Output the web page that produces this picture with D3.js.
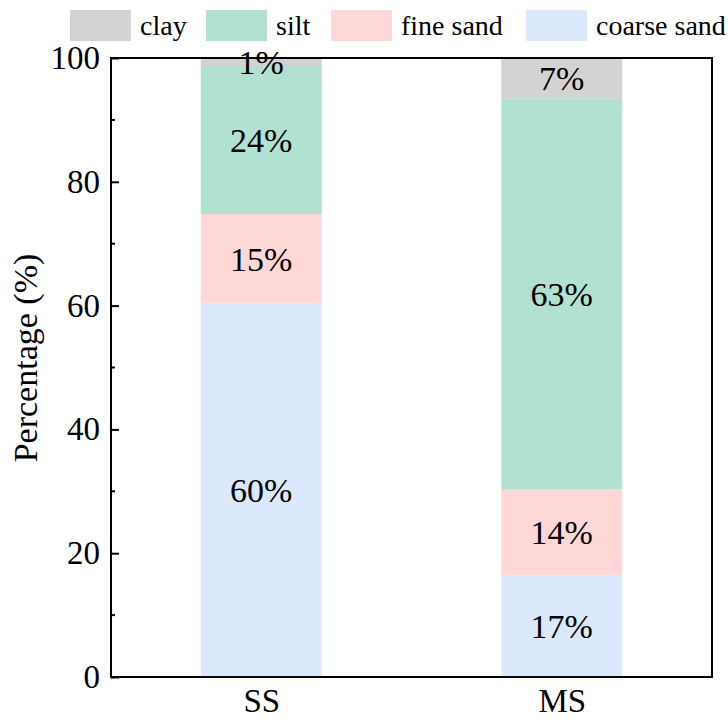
<!DOCTYPE html>
<html><head><meta charset="utf-8">
<script src="https://cdn.jsdelivr.net/npm/d3@7"></script>
<style>body{margin:0;background:#fff}svg{display:block}svg text{font-family:"Times New Roman","Liberation Serif",Tinos,Times,serif !important;fill:#000}</style>
</head><body>
<script>
const categories = ["SS", "MS"];
const seriesNames = ["coarse sand", "fine sand", "silt", "clay"];
const coarseSand = [60.3, 16.5];
const fineSand = [14.5, 13.8];
const silt = [23.9, 63.1];
const clay = [1.3, 6.6];
const labels = {
  "coarse sand": ["60%", "17%"],
  "fine sand": ["15%", "14%"],
  "silt": ["24%", "63%"],
  "clay": ["1%", "7%"]
};
const yTicks = [0, 20, 40, 60, 80, 100];
const yMinorTicks = [10, 30, 50, 70, 90];
const legendOrder = ["clay", "silt", "fine sand", "coarse sand"];
const colors = {"clay":"#d3d3d3","silt":"#b2e0d1","fine sand":"#ffd7d7","coarse sand":"#dce9fc"};

const W = 728, H = 722;
const m = {left:111, right:16, top:58, bottom:45};
const svg = d3.select("body").append("svg").attr("width", W).attr("height", H);

const x = d3.scalePoint().domain(categories).range([m.left, W - m.right]).padding(0.5);
const barW = 121;
const y = d3.scaleLinear().domain([0, 100]).range([H - m.bottom, m.top]);

const rows = categories.map((c, i) => ({cat: c, "coarse sand": coarseSand[i], "fine sand": fineSand[i], "silt": silt[i], "clay": clay[i]}));
const stack = d3.stack().keys(seriesNames)(rows);

const g = svg.append("g");
stack.forEach(s => {
  g.selectAll(null).data(s).enter().append("rect")
    .attr("x", d => x(d.data.cat) - barW / 2)
    .attr("width", barW)
    .attr("y", d => y(d[1]))
    .attr("height", d => y(d[0]) - y(d[1]))
    .attr("fill", colors[s.key]);
});
stack.forEach(s => {
  g.selectAll(null).data(s).enter().append("text")
    .attr("x", d => x(d.data.cat))
    .attr("y", d => y((d[0] + d[1]) / 2))
    .attr("dy", "0.35em")
    .attr("text-anchor", "middle")
    .attr("font-size", 34)
    .text((d, i) => labels[s.key][i]);
});

// axes
const yAxis = d3.axisLeft(y).tickValues(yTicks).tickSize(-8).tickPadding(11).tickFormat(d3.format("d"));
const ya = svg.append("g").attr("transform", `translate(${m.left},0)`).call(yAxis);
ya.select(".domain").remove();
ya.selectAll(".tick line").attr("stroke", "#000").attr("stroke-width", 2);
ya.selectAll(".tick text").attr("font-size", 33);
svg.append("g").selectAll("line").data(yMinorTicks).enter().append("line")
  .attr("x1", m.left).attr("x2", m.left + 4)
  .attr("y1", d => y(d)).attr("y2", d => y(d))
  .attr("stroke", "#000").attr("stroke-width", 2);

const xAxis = d3.axisBottom(x).tickSize(0).tickPadding(12);
const xa = svg.append("g").attr("transform", `translate(0,${H - m.bottom})`).call(xAxis);
xa.select(".domain").remove();
xa.selectAll(".tick text").attr("font-size", 33);

svg.append("rect").attr("x", m.left).attr("y", m.top)
  .attr("width", W - m.left - m.right).attr("height", H - m.top - m.bottom)
  .attr("fill", "none").attr("stroke", "#000").attr("stroke-width", 2);

svg.append("text").attr("transform", `translate(37,358) rotate(-90)`)
  .attr("text-anchor", "middle").attr("font-size", 34).text("Percentage (%)");

// legend
const legX = [70, 206, 331, 526];
const lg = svg.append("g");
legendOrder.forEach((k, i) => {
  lg.append("rect").attr("x", legX[i]).attr("y", 10).attr("width", 61).attr("height", 31).attr("fill", colors[k]);
  lg.append("text").attr("x", legX[i] + 70).attr("y", 35).attr("font-size", 28).text(k);
});
</script>
</body></html>
